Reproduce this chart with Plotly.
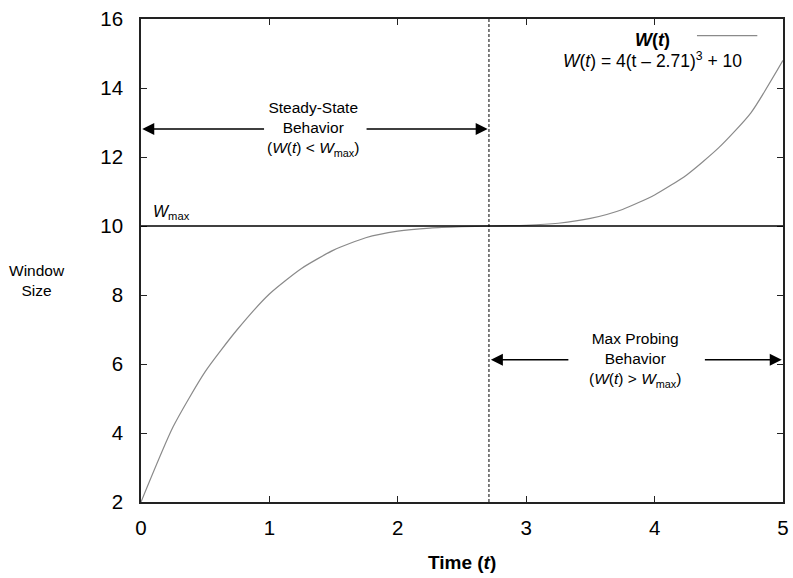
import plotly.graph_objects as go

# Data
t_vals = [0.0, 0.25, 0.5, 0.75, 1.0, 1.25, 1.5, 1.75, 2.0, 2.25, 2.5, 2.71,
          3.0, 3.25, 3.5, 3.75, 4.0, 4.25, 4.5, 4.75, 5.0]
w_vals = [2.0, 4.18, 5.78, 7.0, 8.03, 8.77, 9.30, 9.66, 9.85, 9.94, 9.98, 10.0,
          10.02, 10.08, 10.22, 10.48, 10.9, 11.48, 12.27, 13.28, 14.8]
W_MAX = 10
T_MAX = 2.71
x_ticks = [0, 1, 2, 3, 4, 5]
y_ticks = [2, 4, 6, 8, 10, 12, 14, 16]

FONT = "Liberation Sans, Arial, sans-serif"

fig = go.Figure()
fig.add_trace(go.Scatter(x=t_vals, y=w_vals, mode="lines",
                         line=dict(color="#8a8a8a", width=1.2, shape="spline", smoothing=0.6),
                         showlegend=False, hoverinfo="skip", cliponaxis=False))

shapes = [
    dict(type="line", xref="x", yref="y", x0=0, x1=5, y0=W_MAX, y1=W_MAX,
         line=dict(color="black", width=1.5)),
    dict(type="line", xref="x", yref="paper", x0=T_MAX, x1=T_MAX, y0=0, y1=1,
         line=dict(color="black", width=1, dash="3px,2px")),
    # legend sample line
    dict(type="line", xref="x", yref="y", x0=4.33, x1=4.80, y0=15.52, y1=15.52,
         line=dict(color="#8a8a8a", width=1.2)),
]

ann = []
def arrow(x_head, x_tail, y):
    ann.append(dict(x=x_head, y=y, ax=x_tail, ay=y, xref="x", yref="y", axref="x", ayref="y",
                    text="", showarrow=True, arrowhead=2, arrowsize=1.6, arrowwidth=1.5,
                    arrowcolor="black", standoff=0, startstandoff=0))

arrow(0.01, 0.97, 12.81)
arrow(2.70, 1.745, 12.81)
arrow(2.725, 3.34, 6.12)
arrow(4.99, 4.38, 6.12)

txt_font = dict(family=FONT, size=15.5, color="black")
ann.append(dict(x=1.34, y=12.81, xref="x", yref="y", showarrow=False, align="center",
                text="Steady-State<br>Behavior<br>(<i>W</i>(<i>t</i>) &lt; <i>W</i><sub>max</sub>)",
                font=txt_font))
ann.append(dict(x=3.85, y=6.12, xref="x", yref="y", showarrow=False, align="center",
                text="Max Probing<br>Behavior<br>(<i>W</i>(<i>t</i>) &gt; <i>W</i><sub>max</sub>)",
                font=txt_font))
ann.append(dict(x=0.08, y=10.38, xref="x", yref="y", showarrow=False, xanchor="left",
                text="<i>W</i><sub>max</sub>", font=dict(family=FONT, size=16, color="black")))
ann.append(dict(x=3.98, y=15.39, xref="x", yref="y", showarrow=False, xanchor="center",
                text="<b><i>W</i>(<i>t</i>)</b>", font=dict(family=FONT, size=18, color="black")))
ann.append(dict(x=3.98, y=14.81, xref="x", yref="y", showarrow=False, xanchor="center",
                text="<i>W</i>(<i>t</i>) = 4(t – 2.71)<sup>3</sup> + 10",
                font=dict(family=FONT, size=17.5, color="black")))
ann.append(dict(x=-0.162, y=0.458, xref="paper", yref="paper", showarrow=False, xanchor="center",
                text="Window<br>Size", font=txt_font))
ann.append(dict(x=0.5, y=-0.126, xref="paper", yref="paper", showarrow=False, xanchor="center",
                yanchor="middle", text="<b>Time (<i>t</i>)</b>",
                font=dict(family=FONT, size=19, color="black")))

axis_common = dict(showline=True, linecolor="#222", linewidth=1.5, mirror="ticks",
                   ticks="inside", ticklen=6, tickwidth=1.2, tickcolor="#222",
                   showgrid=False, zeroline=False, automargin=False,
                   tickfont=dict(family=FONT, size=20.5, color="black"))

fig.update_layout(
    width=793, height=578,
    margin=dict(l=141, r=10, t=19, b=76, autoexpand=False),
    plot_bgcolor="white", paper_bgcolor="white",
    xaxis=dict(range=[0, 5], tickvals=x_ticks, ticklabelstandoff=7, **axis_common),
    yaxis=dict(range=[2, 16], tickvals=y_ticks, ticklabelstandoff=12, **axis_common),
    shapes=shapes, annotations=ann, showlegend=False,
)

fig.write_html("out.html", config={"displayModeBar": False},
               post_script="document.body.style.margin='0px';document.body.style.overflow='hidden';")
